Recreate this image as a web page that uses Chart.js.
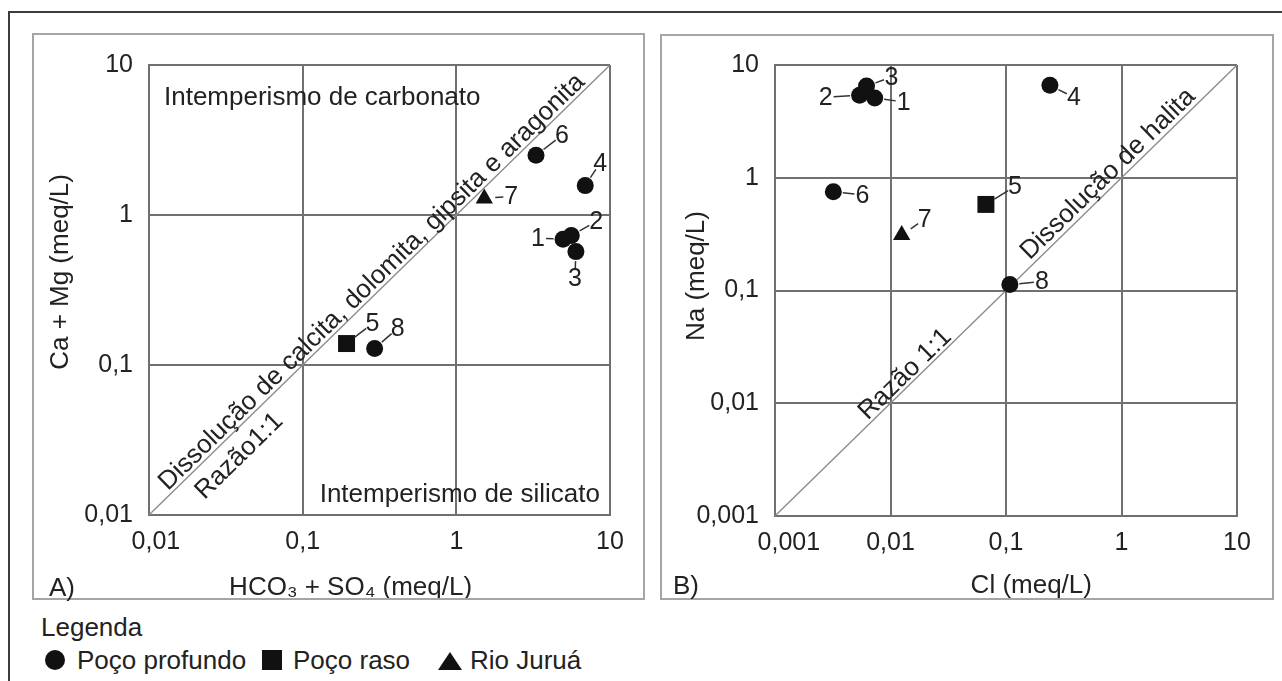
<!DOCTYPE html>
<html>
<head>
<meta charset="utf-8">
<script src="https://cdn.jsdelivr.net/npm/chart.js@4.4.0/dist/chart.umd.min.js"></script>
<style>
  body { margin: 0; background: #fff; width: 1282px; height: 681px; overflow: hidden; position: relative;
         font-family: "Liberation Sans", Arial, sans-serif; color: #222; }
  .frame { position: absolute; left: 8px; top: 11px; width: 1300px; height: 700px;
           border-left: 2px solid #3c3c3c; border-top: 2px solid #3c3c3c; }
  .panel { position: absolute; border: 2px solid #a5a5a5; box-sizing: border-box; pointer-events: none; }
  canvas { position: absolute; }
  .txt { position: absolute; font-size: 26px; line-height: 30px; white-space: nowrap; }
  .sym { position: absolute; background: #111; }
</style>
</head>
<body>
<div class="frame"></div>
<canvas id="chartA" width="612" height="570" style="left:33px;top:34px"></canvas>
<canvas id="chartB" width="612" height="570" style="left:661px;top:34px"></canvas>
<div class="panel" style="left:32px;top:33px;width:613px;height:567px"></div>
<div class="panel" style="left:660px;top:34px;width:614px;height:566px"></div>
<div class="txt" style="left:49px;top:572px">A)</div>
<div class="txt" style="left:673px;top:570px">B)</div>
<div id="legend"></div>

<script>
// amostras
const sampleIds = ['1', '2', '3', '4', '5', '6', '7', '8'];
const sampleKind = [0, 0, 0, 0, 1, 0, 2, 0];
const seriesNames = ['Poço profundo', 'Poço raso', 'Rio Juruá'];

// grafico A: HCO3 + SO4 x Ca + Mg (meq/L)
const hco3So4 = [4.95, 5.6, 6.0, 6.9, 0.193, 3.3, 1.52, 0.294];
const caMg = [0.69, 0.73, 0.57, 1.57, 0.139, 2.5, 1.29, 0.129];
const ticksA = [0.01, 0.1, 1, 10];
const tickLabelsA = ['0,01', '0,1', '1', '10'];

// grafico B: Cl x Na (meq/L)
const cl = [0.0073, 0.0054, 0.0062, 0.24, 0.067, 0.0032, 0.0125, 0.108];
const na = [5.1, 5.4, 6.5, 6.6, 0.58, 0.75, 0.31, 0.113];
const ticksB = [0.001, 0.01, 0.1, 1, 10];
const tickLabelsB = ['0,001', '0,01', '0,1', '1', '10'];

// posicao dos numeros das amostras (pixels, relativo ao ponto)
const labelOffA = [[-25, -1], [25, -14], [-1, 26], [15, -23], [26, -20], [26, -20], [27, -2], [23, -20]];
const labelOffB = [[29, 4], [-34, 2], [25, -9], [24, 12], [29, -18], [29, 3], [23, -16], [32, -3]];

const pointStyles = ['circle', 'rect', 'triangle'];
const pointRadii = [8.5, 12, 10];
const FONT = '"Liberation Sans", Arial, sans-serif';
const INK = '#222';
const GRID = '#707070';

Chart.defaults.font.family = FONT;
Chart.defaults.color = INK;

function diagText(ctx, chart, text, t, off) {
  const xs = chart.scales.x, ys = chart.scales.y;
  const x0 = xs.getPixelForValue(xs.min), y0 = ys.getPixelForValue(ys.min);
  const x1 = xs.getPixelForValue(xs.max), y1 = ys.getPixelForValue(ys.max);
  const ang = Math.atan2(y1 - y0, x1 - x0);
  const px = x0 + (x1 - x0) * t + Math.sin(ang) * off;
  const py = y0 + (y1 - y0) * t - Math.cos(ang) * off;
  ctx.save();
  ctx.translate(px, py);
  ctx.rotate(ang);
  ctx.textAlign = 'center';
  ctx.textBaseline = 'middle';
  ctx.fillText(text, 0, 0);
  ctx.restore();
}

const annotPlugin = {
  id: 'annot',
  afterDatasetsDraw(chart, args, opts) {
    const ctx = chart.ctx;
    const area = chart.chartArea;
    ctx.save();
    ctx.fillStyle = INK;
    ctx.font = '26px ' + FONT;
    (opts.diag || []).forEach(d => diagText(ctx, chart, d.text, d.t, d.off));
    (opts.region || []).forEach(r => {
      ctx.textAlign = r.align;
      ctx.textBaseline = 'middle';
      const x = r.align === 'left' ? area.left + r.dx : area.right - r.dx;
      const y = r.fromTop ? area.top + r.dy : area.bottom - r.dy;
      ctx.fillText(r.text, x, y);
    });
    // numeros das amostras com linha de chamada
    ctx.font = '25px ' + FONT;
    ctx.textAlign = 'center';
    ctx.textBaseline = 'middle';
    ctx.strokeStyle = '#333';
    ctx.lineWidth = 1.5;
    chart.data.datasets.forEach((ds, di) => {
      if (!ds.ids) return;
      chart.getDatasetMeta(di).data.forEach((el, i) => {
        const s = ds.ids[i];
        const [dx, dy] = opts.offsets[s];
        const len = Math.hypot(dx, dy), ux = dx / len, uy = dy / len;
        const r = ds.pointRadius * (ds.pointStyle === 'rect' ? 0.75 : 1);
        ctx.beginPath();
        ctx.moveTo(el.x + ux * (r + 1), el.y + uy * (r + 1));
        ctx.lineTo(el.x + dx - ux * 8, el.y + dy - uy * 8);
        ctx.stroke();
        ctx.fillText(sampleIds[s], el.x + dx, el.y + dy + 1);
      });
    });
    ctx.restore();
  }
};

function buildChart(id, xv, yv, ticks, tickLabels, cfg) {
  const datasets = seriesNames.map((name, k) => {
    const ids = sampleIds.map((_, i) => i).filter(i => sampleKind[i] === k);
    return {
      label: name,
      ids: ids,
      data: ids.map(i => ({ x: xv[i], y: yv[i] })),
      pointStyle: pointStyles[k],
      pointRadius: pointRadii[k],
      backgroundColor: '#111',
      borderColor: '#111',
      borderWidth: 0
    };
  });
  const lo = ticks[0], hi = ticks[ticks.length - 1];
  datasets.push({
    label: 'Razão 1:1',
    data: [{ x: lo, y: lo }, { x: hi, y: hi }],
    showLine: true,
    pointRadius: 0,
    borderColor: '#8a8a8a',
    borderWidth: 1.3
  });

  const axis = (title, pad, fit, isX) => ({
    type: 'logarithmic',
    min: lo,
    max: hi,
    afterBuildTicks: s => { s.ticks = ticks.map(v => ({ value: v })); },
    afterFit: s => { if (isX) s.height = fit; else s.width = fit; },
    ticks: {
      autoSkip: false, maxRotation: 0, minRotation: 0,
      padding: isX ? 12 : 16,
      color: INK,
      font: { size: 25 },
      callback: (v, i) => (isX && i === 0 ? cfg.firstPad : '') + tickLabels[i]
    },
    grid: { color: GRID, lineWidth: 2, drawTicks: false },
    border: { color: GRID, width: 2 },
    title: { display: true, text: title, color: INK, font: { size: 26 }, padding: pad }
  });

  return new Chart(document.getElementById(id), {
    type: 'scatter',
    data: { datasets: datasets },
    options: {
      responsive: false,
      animation: false,
      devicePixelRatio: 1,
      events: [],
      layout: { padding: { top: cfg.top, right: cfg.right, left: 0, bottom: 0 } },
      plugins: {
        legend: { display: false },
        tooltip: { enabled: false },
        annot: { diag: cfg.diag, region: cfg.region, offsets: cfg.offsets }
      },
      scales: {
        x: axis(cfg.xTitle, { top: 0, bottom: cfg.xTitlePad }, cfg.xAxisH, true),
        y: axis(cfg.yTitle, { top: cfg.yTitlePad, bottom: 0 }, cfg.yAxisW, false)
      }
    },
    plugins: [annotPlugin]
  });
}

buildChart('chartA', hco3So4, caMg, ticksA, tickLabelsA, {
  top: 23, right: 35, xAxisH: 89, yAxisW: 116,
  firstPad: '  ',
  xTitle: 'HCO₃ + SO₄ (meq/L)        ', xTitlePad: 1,
  yTitle: '     Ca + Mg (meq/L)', yTitlePad: 12,
  offsets: labelOffA,
  diag: [
    { text: 'Dissolução de calcita, dolomita, gipsita e aragonita', t: 0.5, off: 11 },
    { text: 'Razão1:1', t: 0.164, off: -21 }
  ],
  region: [
    { text: 'Intemperismo de carbonato', align: 'left', dx: 15, dy: 33, fromTop: true },
    { text: 'Intemperismo de silicato', align: 'right', dx: 10, dy: 20, fromTop: false }
  ]
});

buildChart('chartB', cl, na, ticksB, tickLabelsB, {
  top: 23, right: 36, xAxisH: 88, yAxisW: 114,
  firstPad: '    ',
  xTitle: '       Cl (meq/L)', xTitlePad: 3,
  yTitle: '    Na (meq/L)', yTitlePad: 20,
  offsets: labelOffB,
  diag: [
    { text: 'Dissolução de halita', t: 0.739, off: 12 },
    { text: 'Razão 1:1', t: 0.2975, off: 10.5 }
  ],
  region: []
});

// legenda
const legend = document.getElementById('legend');
const symCss = [
  'left:45px;top:650px;width:20px;height:20px;border-radius:50%',
  'left:262px;top:650px;width:20px;height:20px',
  'left:438px;top:652px;width:24px;height:18px;clip-path:polygon(50% 0,100% 100%,0 100%)'
];
const textLeft = [77, 293, 470];
let html = '<div class="txt" style="left:41px;top:612px">Legenda</div>';
seriesNames.forEach((name, k) => {
  html += '<div class="sym" style="' + symCss[k] + '"></div>';
  html += '<div class="txt" style="left:' + textLeft[k] + 'px;top:645px">' + name + '</div>';
});
legend.innerHTML = html;
</script>
</body>
</html>
